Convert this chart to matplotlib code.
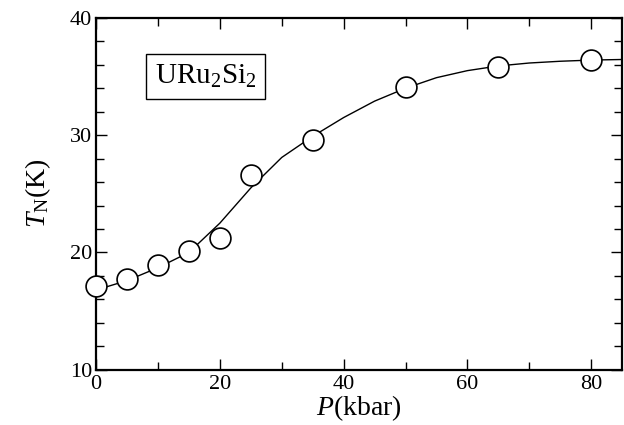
import matplotlib
matplotlib.use('Agg')
import matplotlib.pyplot as plt
from matplotlib.ticker import MultipleLocator

plt.rcParams['font.family'] = ['Liberation Serif', 'DejaVu Serif']
plt.rcParams['mathtext.fontset'] = 'custom'
plt.rcParams['mathtext.rm'] = 'Liberation Serif'
plt.rcParams['mathtext.it'] = 'Liberation Serif:italic'

# measured points
pressure = [0, 5, 10, 15, 20, 25, 35, 50, 65, 80]
t_neel = [17.1, 17.7, 18.9, 20.1, 21.2, 26.6, 29.6, 34.1, 35.8, 36.4]

# guide-to-the-eye curve
curve_p = [0, 5, 10, 15, 20, 25, 30, 35, 40, 45, 50, 55, 60, 65, 70, 75, 80, 85]
curve_t = [16.8, 17.6, 18.7, 20.0, 22.5, 25.5, 28.1, 29.9, 31.5, 32.9, 34.0,
           34.9, 35.5, 35.9, 36.15, 36.3, 36.4, 36.45]

fig = plt.figure(figsize=(6.24, 4.25), dpi=100)
ax = fig.add_axes([0.154, 0.13, 0.843, 0.828])

ax.plot(curve_p, curve_t, color='black', lw=1.0, zorder=2)
ax.plot(pressure, t_neel, 'o', ms=15, mfc='white', mec='black', mew=1.2,
        zorder=3, clip_on=False)

ax.set_xlim(0, 85)
ax.set_ylim(10, 40)
ax.xaxis.set_major_locator(MultipleLocator(20))
ax.xaxis.set_minor_locator(MultipleLocator(10))
ax.yaxis.set_major_locator(MultipleLocator(10))
ax.yaxis.set_minor_locator(MultipleLocator(2))
ax.tick_params(which='both', direction='in', top=True, right=True,
               labelsize=16, width=1.0)
ax.tick_params(which='major', length=8)
ax.tick_params(axis='x', which='major', pad=4)
ax.tick_params(axis='y', which='major', pad=3)
ax.tick_params(which='minor', length=6)
for s in ax.spines.values():
    s.set_linewidth(1.6)

ax.set_xlabel(r'$P$(kbar)', fontsize=20, labelpad=-1)
ax.set_ylabel(r'$T_{\rm N}$(K)', fontsize=20, labelpad=12)

ax.text(17.7, 35.0, r'URu$_2$Si$_2$', fontsize=21, ha='center', va='center',
        bbox=dict(boxstyle='square,pad=0.3', fc='white', ec='black', lw=1.0))

fig.savefig('out.png', dpi=100)
